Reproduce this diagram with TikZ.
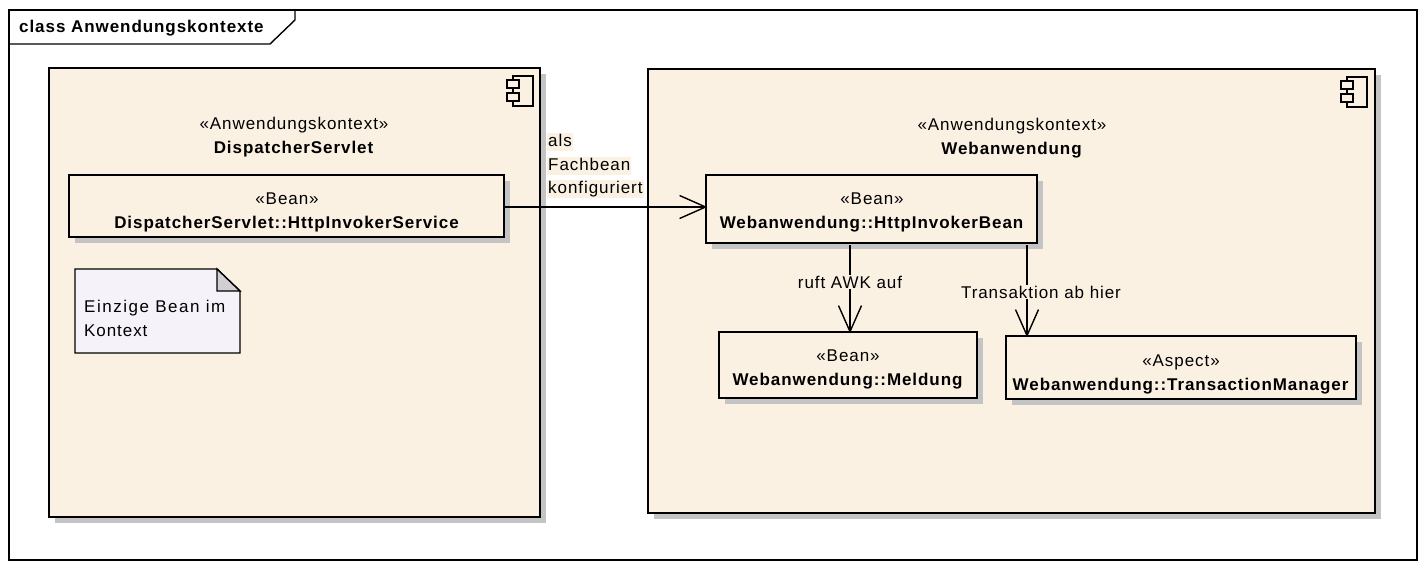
\documentclass[tikz,border=0pt]{standalone}
\usepackage{fontspec}
\setmainfont[LetterSpace=5.5]{Liberation Sans}
\usetikzlibrary{arrows.meta,shadows}
\definecolor{beancolor}{HTML}{FBF1E3}
\definecolor{notecolor}{HTML}{F6F2F9}
\definecolor{foldcolor}{HTML}{D2CFD4}
\definecolor{shadowcolor}{HTML}{C4C4C4}
\tikzset{
  umlfont/.style={font=\fontsize{17}{24}\selectfont},
  shadowbox/.style={draw,line width=1.4pt,fill=beancolor,
    general shadow={fill=shadowcolor,shadow xshift=6pt,shadow yshift=-6pt}},
  titletext/.style={umlfont,align=center},
  linelabel/.style={umlfont,fill=beancolor,inner xsep=1pt,inner ysep=1pt,text depth=3pt,anchor=west},
  assoc/.style={line width=1.4pt,shorten >=-2pt,-{Straight Barb[length=26pt,width=23pt,line width=1.4pt]}},
  compicon/.pic={
    \draw[line width=1.4pt] (0,4) -- (0,0) -- (20,0) -- (20,30) -- (0,30) -- (0,25);
    \draw[line width=1.4pt] (0,12) -- (0,17);
    \draw[line width=1.4pt,fill=beancolor] (-6,4) rectangle (6,12);
    \draw[line width=1.4pt,fill=beancolor] (-6,17) rectangle (6,25);
  }
}
\begin{document}
\begin{tikzpicture}[x=1pt,y=-1pt]
  \useasboundingbox (0,0) rectangle (1426,568);

  % frame
  \draw[line width=1.4pt] (9,10) rectangle (1417,560);
  \draw[line width=1.4pt] (9,44) -- (270,44) -- (295,20) -- (295,10);
  \node[umlfont,anchor=west,inner sep=0pt] (frameTitle) at (19,28) {\textbf{class Anwendungskontexte}};

  % application contexts
  \node[shadowbox,minimum width=491pt,minimum height=449pt] (ctxServlet) at (294.5,292.5) {};
  \node[shadowbox,minimum width=727pt,minimum height=444pt] (ctxWeb) at (1011.5,291) {};
  \path (513,76) pic {compicon};
  \path (1347,77) pic {compicon};
  \node[titletext] (titleServlet) at (294,137) {«Anwendungskontext»\\\textbf{DispatcherServlet}};
  \node[titletext] (titleWeb) at (1012,138) {«Anwendungskontext»\\\textbf{Webanwendung}};

  % beans
  \node[shadowbox,minimum width=435pt,minimum height=62pt] (serviceBean) at (286.5,206) {};
  \node[shadowbox,minimum width=331pt,minimum height=68pt] (invokerBean) at (871.5,209) {};
  \node[shadowbox,minimum width=258pt,minimum height=66pt] (meldungBean) at (848,365) {};
  \node[shadowbox,minimum width=350pt,minimum height=63pt] (txAspect) at (1181,367.5) {};
  \node[titletext] (serviceText) at (287,212.5) {«Bean»\\\textbf{DispatcherServlet::HttpInvokerService}};
  \node[titletext] (invokerText) at (872,212.5) {«Bean»\\\textbf{Webanwendung::HttpInvokerBean}};
  \node[titletext] (meldungText) at (848,369.5) {«Bean»\\\textbf{Webanwendung::Meldung}};
  \node[titletext] (txText) at (1181,374.5) {«Aspect»\\\textbf{Webanwendung::TransactionManager}};

  % note
  \draw[line width=1.4pt,fill=notecolor] (75,269) -- (217,269) -- (240,291) -- (240,353) -- (75,353) -- cycle;
  \draw[line width=1.4pt,fill=foldcolor] (217,269) -- (240,291) -- (217,291) -- cycle;
  \node[umlfont,anchor=north west,align=left,inner sep=0pt] (noteText) at (84,300) {\addfontfeature{LetterSpace=9}Einzige Bean im\\Kontext};

  % connectors
  \coordinate (serviceOut) at (505,207);
  \coordinate (ruftStart) at (850,245);
  \coordinate (txStart) at (1027,245);
  \draw[assoc] (serviceOut) -- (serviceOut -| invokerBean.west);
  \draw[assoc] (ruftStart) -- (ruftStart |- meldungBean.north);
  \draw[assoc] (txStart) -- (txStart |- txAspect.north);

  % labels
  \node[linelabel] (lblAls) at (547,142) {als};
  \node[linelabel] (lblFach) at (547,166) {Fachbean};
  \node[linelabel] (lblKonf) at (547,189) {konfiguriert};
  \node[umlfont,fill=beancolor,inner xsep=2pt,inner ysep=1pt] (lblRuft) at (850,282) {ruft AWK auf};
  \node[umlfont,fill=beancolor,inner xsep=2pt,inner ysep=1pt] (lblTx) at (1041,292) {Transaktion ab hier};
\end{tikzpicture}
\end{document}
